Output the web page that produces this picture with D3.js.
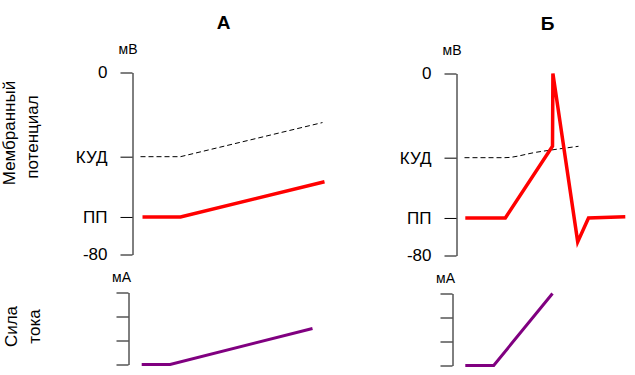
<!DOCTYPE html>
<html>
<head>
<meta charset="utf-8">
<script src="https://cdn.jsdelivr.net/npm/d3@7"></script>
<style>
  body { margin: 0; background: #fff; }
  svg text { font-family: Arial, "Liberation Sans", sans-serif; fill: #000; }
</style>
</head>
<body>
<div id="chart"></div>
<script>
// Column titles and axis ticks
var columnTitles = ["А", "Б"];
var voltageTicks = [0, -37, -63.5, -80];
var voltageTickLabels = ["0", "КУД", "ПП", "-80"];
var currentTicks = [0, 1, 2, 3];

// Membrane potential, [time, mV]
var potentialA = [[2.5, -63.5], [12, -63.5], [48, -48]];
var potentialB = [[2.2, -63.5], [12.2, -63.5], [24, -32], [24.1, 0], [30.3, -74], [33, -63.5], [42.2, -63]];

// Critical depolarisation level (dashed), [time, mV]
var thresholdA = [[2, -37], [12, -37], [47.5, -22]];
var thresholdB = [[2, -37], [12, -37], [20, -34.6], [30.5, -32]];

// Stimulus current, [time, arbitrary units]
var currentA = [[2.3, 0], [9.4, 0], [45, 1.5]];
var currentB = [[2.2, 0], [9.3, 0], [24, 3]];

var svgWidth = 635;
var svgHeight = 375;

var svg = d3.select("#chart")
  .append("svg")
  .attr("width", svgWidth)
  .attr("height", svgHeight);

// Scales shared by both columns
var xScale = d3.scaleLinear().domain([0, 50]).range([0, 200]);
var yVolt = d3.scaleLinear().domain([-80, 0]).range([254.5, 72.5]);
var yCurr = d3.scaleLinear().domain([0, 3]).range([364.5, 292.5]);

var columns = [
  { x: 132.5, dy: 0, title: columnTitles[0], pot: potentialA, thr: thresholdA, cur: currentA },
  { x: 456.5, dy: 1, title: columnTitles[1], pot: potentialB, thr: thresholdB, cur: currentB }
];

var voltLine = d3.line().x(d => xScale(d[0])).y(d => yVolt(d[1]));
var currLine = d3.line().x(d => xScale(d[0])).y(d => yCurr(d[1]));

columns.forEach(function(col, i) {
  var g = svg.append("g")
    .attr("transform", `translate(${col.x}, ${col.dy})`);

  // title
  g.append("text")
    .attr("x", 91)
    .attr("y", 29)
    .attr("text-anchor", "middle")
    .style("font-size", "19px")
    .style("font-weight", "bold")
    .text(col.title);

  // voltage axis
  var leftAxis = d3.axisLeft(yVolt)
    .tickValues(voltageTicks)
    .tickFormat((d, j) => voltageTickLabels[j])
    .tickSize(12)
    .tickSizeOuter(0)
    .tickPadding(13);

  var ax = g.append("g").call(leftAxis);
  ax.selectAll("text")
    .style("font-size", "17px")
    .attr("font-family", null);
  ax.selectAll("line, path").attr("stroke", "#000");

  g.append("text")
    .attr("x", -4.5)
    .attr("y", 54)
    .attr("text-anchor", "middle")
    .style("font-size", "14px")
    .text("мВ");

  // threshold (dashed)
  g.append("path")
    .datum(col.thr)
    .attr("fill", "none")
    .attr("stroke", "#000")
    .attr("stroke-width", 1)
    .attr("stroke-dasharray", "5,3")
    .attr("d", i == 1 ? voltLine.curve(d3.curveMonotoneX)(col.thr) : voltLine.curve(d3.curveLinear)(col.thr));

  // membrane potential
  g.append("path")
    .datum(col.pot)
    .attr("fill", "none")
    .attr("stroke", "#ff0000")
    .attr("stroke-width", 3.5)
    .attr("stroke-linejoin", "miter")
    .attr("d", voltLine.curve(d3.curveLinear));

  // current axis, sits a bit left of the voltage axis
  var cg = g.append("g").attr("transform", "translate(-4, 0)");
  var curAxis = d3.axisLeft(yCurr)
    .tickValues(currentTicks)
    .tickFormat("")
    .tickSize(12)
    .tickSizeOuter(0);
  cg.call(curAxis);
  cg.selectAll("line, path").attr("stroke", "#000");

  g.append("text")
    .attr("x", -11)
    .attr("y", 281.5)
    .attr("text-anchor", "middle")
    .style("font-size", "14px")
    .text("мА");

  // current
  g.append("path")
    .datum(col.cur)
    .attr("fill", "none")
    .attr("stroke", "#800080")
    .attr("stroke-width", 3)
    .attr("d", currLine);
});

// rotated side labels
var sideLabels = [
  { text: "Мембранный", x: 15, y: 133 },
  { text: "потенциал", x: 38, y: 137 },
  { text: "Сила", x: 16.5, y: 326.5 },
  { text: "тока", x: 40, y: 326.5 }
];

svg.selectAll(".side")
  .data(sideLabels)
  .enter()
  .append("text")
  .attr("class", "side")
  .attr("transform", d => `translate(${d.x}, ${d.y}) rotate(-90)`)
  .attr("text-anchor", "middle")
  .style("font-size", "17px")
  .text(d => d.text);
</script>
</body>
</html>
